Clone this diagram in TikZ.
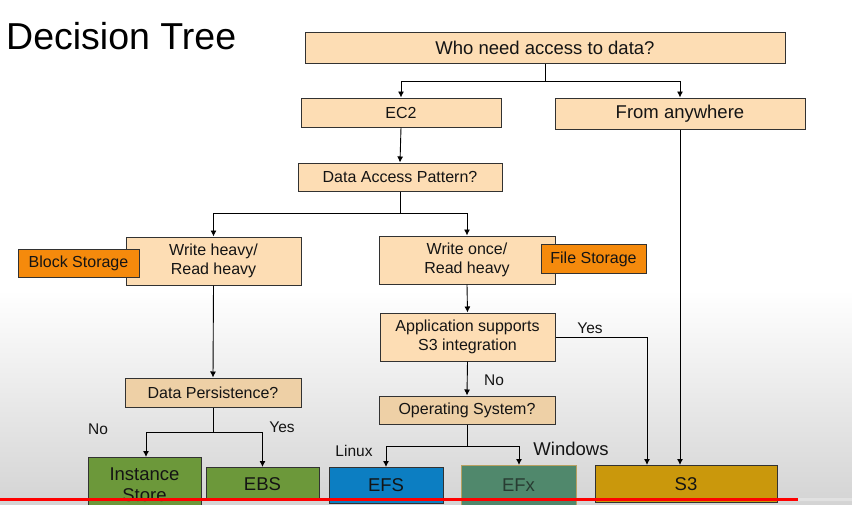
\documentclass[tikz,border=0pt]{standalone}
\usepackage{fontspec}
\setmainfont{Liberation Sans}
\usetikzlibrary{arrows.meta}
\definecolor{peach}{RGB}{253,221,180}
\definecolor{tanbox}{RGB}{238,208,166}
\definecolor{orangebox}{RGB}{245,138,12}
\definecolor{greenbox}{RGB}{108,152,58}
\definecolor{bluebox}{RGB}{12,126,194}
\definecolor{tealbox}{RGB}{80,136,108}
\definecolor{tealedge}{RGB}{184,160,96}
\definecolor{tealtext}{RGB}{40,60,50}
\definecolor{goldbox}{RGB}{202,152,12}
\definecolor{edgegray}{RGB}{50,50,50}
\definecolor{txt}{RGB}{20,20,20}
\definecolor{bggray}{RGB}{212,212,212}
\definecolor{bargray}{RGB}{225,225,225}
\tikzset{
  box/.style={draw=edgegray, line width=1pt, fill=peach, inner sep=0pt, align=center, text=txt,
    font=\fontsize{16}{19.5}\selectfont},
  tbox/.style={box, fill=tanbox},
  obox/.style={box, fill=orangebox},
  leaf/.style={box, font=\fontsize{18.5}{21.5}\selectfont},
  arr/.style={draw=black, line width=0.9pt, -{Latex[length=6pt,width=6pt]}},
  ln/.style={draw=black, line width=0.9pt},
  lbl/.style={text=txt, inner sep=0pt, font=\fontsize{15.5}{17}\selectfont}
}
\begin{document}
\begin{tikzpicture}[x=1pt,y=-1pt]
\useasboundingbox (0,0) rectangle (852,504);
\clip (0,0) rectangle (852,504);
% background
\fill[white] (0,0) rectangle (852,300);
\shade[top color=white, bottom color=bggray] (0,290) rectangle (852,504);
% title
\node[anchor=west, inner sep=0pt, font=\fontsize{37.5}{40}\selectfont] (title) at (6,36) {Decision Tree};
% nodes
\node[box, font=\fontsize{18.5}{21}\selectfont, minimum width=480pt, minimum height=31pt] (who) at (545,48) {Who need access to data?};
\node[box, minimum width=200pt, minimum height=29pt] (ec2) at (401,112.5) {EC2};
\node[box, font=\fontsize{18.5}{21}\selectfont, minimum width=250pt, minimum height=31pt] (fa) at (680,113.5) {From anywhere};
\node[box, minimum width=204pt, minimum height=28pt] (dap) at (400,177) {Data Access Pattern?};
\node[box, minimum width=175pt, minimum height=48pt] (wh) at (213.5,261) {Write heavy/\\Read heavy};
\node[box, minimum width=176pt, minimum height=48pt] (wo) at (467,260) {Write once/\\Read heavy};
\node[obox, minimum width=121pt, minimum height=28pt] (bs) at (78.5,263.5) {Block Storage};
\node[obox, minimum width=105pt, minimum height=29pt] (fs) at (593.5,259) {File Storage};
\node[box, minimum width=175pt, minimum height=48pt] (app) at (467.5,337) {Application supports\\S3 integration};
\node[tbox, minimum width=176pt, minimum height=29pt] (dp) at (213,392.5) {Data Persistence?};
\node[tbox, minimum width=176pt, minimum height=28pt] (os) at (467,410) {Operating System?};
\node[leaf, fill=greenbox, minimum width=113pt, minimum height=54pt, anchor=north] (is) at (144.5,457) {Instance\\Store};
\node[leaf, fill=greenbox, minimum width=113pt, minimum height=33pt, anchor=north] (ebs) at (262.5,467) {EBS};
\node[leaf, fill=bluebox, minimum width=114pt, minimum height=36pt, anchor=north] (efs) at (386,467) {EFS};
\node[leaf, fill=tealbox, draw=tealedge, text=tealtext, minimum width=115pt, minimum height=40pt, anchor=north] (efx) at (518.5,465) {EFx};
\node[leaf, fill=goldbox, minimum width=182pt, minimum height=37pt, anchor=north] (s3) at (686,465) {S3};
% connectors
\draw[ln] (who.south) -- ++(0,17) coordinate (wb);
\draw[arr] (wb) -| (ec2.north);
\draw[arr] (wb) -| (fa.north);
\draw[arr] (ec2.south) -- (dap.north);
\draw[ln] (dap.south) -- ++(0,22) coordinate (db);
\draw[arr] (db) -| (wh.north);
\draw[arr] (db) -| (wo.north);
\draw[arr] (wh.south) -- (dp.north);
\draw[arr] (wo.south) -- (app.north);
\draw[arr] (app.south) -- (os.north);
\draw[arr] (app.east) -| ([xshift=-39pt]s3.north);
\draw[arr] (fa.south) -- ([xshift=-6pt]s3.north);
\draw[ln] (dp.south) -- ++(0,25) coordinate (pb);
\draw[arr] (pb) -| ([xshift=1.5pt]is.north);
\draw[arr] (pb) -| (ebs.north);
\draw[ln] (os.south) -- ++(0,22) coordinate (ob);
\draw[arr] (ob) -| (efs.north);
\draw[arr] (ob) -| ([xshift=0.5pt]efx.north);
% labels
\node[lbl] (l1) at (590,328) {Yes};
\node[lbl] (l2) at (494,380) {No};
\node[lbl] (l3) at (98,429) {No};
\node[lbl] (l4) at (282,427) {Yes};
\node[lbl] (l5) at (354,451) {Linux};
\node[lbl, font=\fontsize{18.5}{20}\selectfont] (l6) at (571,449) {Windows};
% progress bar
\fill[red] (0,497.5) rectangle (798,501);
\fill[bargray] (798,497.5) rectangle (852,501);
\end{tikzpicture}
\end{document}
